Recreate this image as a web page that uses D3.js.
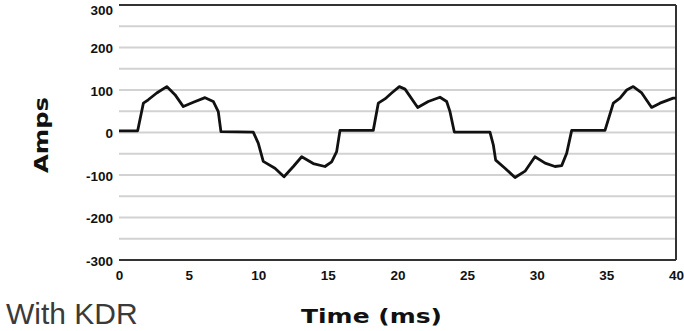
<meta charset="utf-8">
<script src="https://d3js.org/d3.v7.min.js"></script>
<style>
body { margin: 0; background: white; }
svg { font-family: 'DejaVu Sans', sans-serif; }
.tick text { font-weight: bold; fill: #111; }
</style>
<body>
<div id="chart"></div>
<script>
// values
var timeMs = [0, 1.34, 1.75, 2.10, 2.71, 3.43, 4.02, 4.62, 5.34, 6.18, 6.77, 7.13, 7.32,
  9.64, 10.0, 10.36, 11.2, 11.85, 12.52, 13.12, 13.95, 14.79, 15.27, 15.63, 15.87,
  18.26, 18.62, 19.1, 19.58, 20.13, 20.54, 21.45, 22.21, 23.05, 23.53, 23.77, 24.08,
  26.64, 26.88, 27.05, 27.72, 28.44, 29.16, 29.87, 30.6, 31.31, 31.79, 32.15, 32.51,
  34.9, 35.5, 35.98, 36.46, 36.93, 37.54, 38.25, 38.85, 39.8, 40];
var amps = [4, 4, 69, 77, 93, 108, 89, 61, 71, 82, 73, 49, 2,
  1, -25, -68, -84, -104, -80, -57, -73, -80, -69, -45, 5,
  5, 69, 79, 93, 108, 102, 59, 73, 83, 73, 49, 1,
  1, -29, -65, -84, -106, -91, -57, -72, -80, -78, -49, 5,
  5, 69, 81, 100, 108, 93, 59, 69, 81, 81];
var xTicks = [0, 5, 10, 15, 20, 25, 30, 35, 40];
var yTicks = [-300, -200, -100, 0, 100, 200, 300];
var gridLines = [-250, -200, -150, -100, -50, 0, 50, 100, 150, 200, 250];

var data = timeMs.map(function(t, i) { return {t: t, a: amps[i]}; });

var margin = {top: 5, right: 8, bottom: 71, left: 119},
    width = 684 - margin.left - margin.right,
    height = 331 - margin.top - margin.bottom;

var svg = d3.select("#chart")
  .append("svg")
    .attr("width", 684)
    .attr("height", 331)
  .append("g")
    .attr("transform", "translate(" + margin.left + "," + margin.top + ")");

var x = d3.scaleLinear().domain([0, 40]).range([0, width]);
var y = d3.scaleLinear().domain([-300, 300]).range([height, 0]);

// light gridlines
svg.append("g")
  .selectAll("line")
  .data(gridLines)
  .enter()
  .append("line")
    .attr("x1", 0)
    .attr("x2", width)
    .attr("y1", function(d) { return y(d); })
    .attr("y2", function(d) { return y(d); })
    .attr("stroke", "#d2d2d2")
    .attr("stroke-width", 2);

// top and bottom frame lines
svg.append("g")
  .selectAll("line")
  .data([-300, 300])
  .enter()
  .append("line")
    .attr("x1", 0)
    .attr("x2", width)
    .attr("y1", function(d) { return y(d); })
    .attr("y2", function(d) { return y(d); })
    .attr("stroke", "#333")
    .attr("stroke-width", 2);

// right frame line
svg.append("line")
  .attr("x1", x(40)).attr("x2", x(40))
  .attr("y1", y(300)).attr("y2", y(-300))
  .attr("stroke", "#333")
  .attr("stroke-width", 2);

// Y axis
var yAxis = svg.append("g")
  .call(d3.axisLeft(y).tickValues(yTicks).tickSize(0).tickPadding(6)
    .tickFormat(function(d) { return d < 0 ? "-" + Math.abs(d) : d; }));
yAxis.select(".domain").remove();
yAxis.selectAll("text")
  .style("font-size", "13.5px")
  .attr("dy", function(d) { return d == 300 ? "0.72em" : "0.4em"; });

// X axis
var xAxis = svg.append("g")
  .attr("transform", "translate(0," + height + ")")
  .call(d3.axisBottom(x).tickValues(xTicks).tickSize(0).tickPadding(10));
xAxis.select(".domain").remove();
xAxis.selectAll("text").style("font-size", "13.5px");

// waveform
var line = d3.line()
  .x(function(d) { return x(d.t); })
  .y(function(d) { return y(d.a); });

svg.append("path")
  .datum(data)
  .attr("fill", "none")
  .attr("stroke", "#111")
  .attr("stroke-width", 2.8)
  .attr("stroke-linejoin", "round")
  .attr("d", line);

// axis titles
svg.append("text")
  .attr("x", 301 - margin.left)
  .attr("y", 323 - margin.top)
  .attr("textLength", 141)
  .attr("lengthAdjust", "spacingAndGlyphs")
  .style("font-size", "19px")
  .style("font-weight", "bold")
  .style("fill", "#111")
  .text("Time (ms)");

svg.append("text")
  .attr("transform", "translate(" + (48 - margin.left) + "," + (135 - margin.top) + ") rotate(-90)")
  .attr("text-anchor", "middle")
  .attr("textLength", 76)
  .attr("lengthAdjust", "spacingAndGlyphs")
  .style("font-size", "20px")
  .style("font-weight", "bold")
  .style("fill", "#111")
  .text("Amps");

svg.append("text")
  .attr("x", 6 - margin.left)
  .attr("y", 324 - margin.top)
  .style("font-family", "'Liberation Sans', Arial, sans-serif")
  .style("font-size", "30px")
  .style("fill", "#3a3a3a")
  .text("With KDR");
</script>
</body>
